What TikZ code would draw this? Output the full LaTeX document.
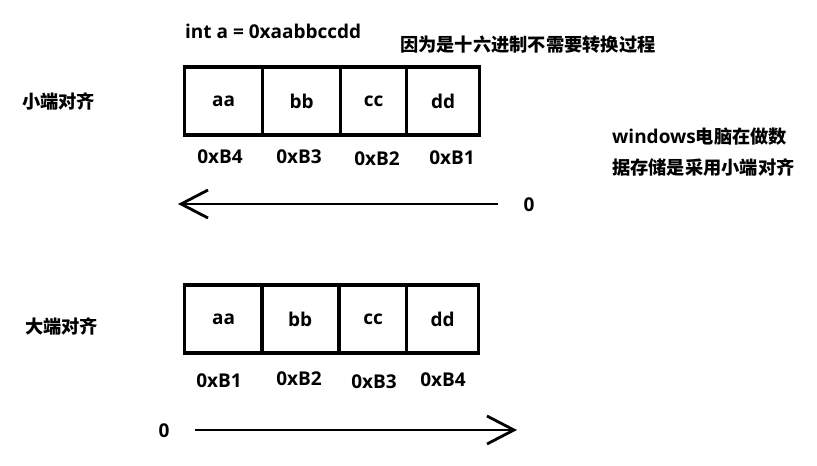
\documentclass[tikz,border=0pt]{standalone}
\usepackage{fontspec}
\setmainfont{Open Sans}
\newfontfamily\cjk{Noto Sans CJK SC Bold}[Scale=0.96]
\usetikzlibrary{arrows.meta}

\begin{document}
\begin{tikzpicture}[x=1pt, y=-1pt,
  every node/.style={font=\fontsize{19}{22}\selectfont\bfseries, inner sep=0pt},
  cell/.style={draw=black, line width=3.3pt, minimum height=68pt, anchor=west},
  addr/.style={},
  arr/.style={line width=2.8pt, -{Straight Barb[length=27pt, width=28pt, line width=2.8pt]}}]
\useasboundingbox (0,0) rectangle (817,466);

\node[anchor=west](code) at (185,31) {int a = 0xaabbccdd};
\node[anchor=west](note) at (400,45) {\cjk 因为是十六进制不需要转换过程};

% little endian
\node[anchor=west](little) at (22,101) {\cjk 小端对齐};
\node[cell, minimum width=78pt](la) at (183,101) {aa};
\node[cell, minimum width=78pt](lb) at (261,101) {bb};
\node[cell, minimum width=66pt](lc) at (339,101) {cc};
\node[cell, minimum width=73pt](ld) at (405,101) {dd};

\node[addr](l4) at (220,157) {0xB4};
\node[addr](l3) at (299,157) {0xB3};
\node[addr](l2) at (377,159) {0xB2};
\node[addr](l1) at (452,158) {0xB1};

\node(lzero) at (529,205) {0};
\coordinate (lstart) at (498,204);
\coordinate (lend) at (178,204);
\draw[arr] (lstart) -- (lend);

\node[anchor=west](win1) at (612,137) {windows{\cjk 电脑在做数}};
\node[anchor=west](win2) at (612,168) {\cjk 据存储是采用小端对齐};

% big endian
\node[anchor=west](big) at (25,326) {\cjk 大端对齐};
\node[cell, minimum width=78pt](ba) at (183,319) {aa};
\node[cell, minimum width=77pt](bb) at (260,319) {bb};
\node[cell, minimum width=67pt](bc) at (338,319) {cc};
\node[cell, minimum width=72pt](bd) at (405,319) {dd};

\node[addr](b1) at (219,381) {0xB1};
\node[addr](b2) at (299,379) {0xB2};
\node[addr](b3) at (374,382) {0xB3};
\node[addr](b4) at (443,380) {0xB4};

\node(bzero) at (164,431) {0};
\coordinate (bstart) at (195,430);
\coordinate (bend) at (517,430);
\draw[arr] (bstart) -- (bend);

\end{tikzpicture}
\end{document}
